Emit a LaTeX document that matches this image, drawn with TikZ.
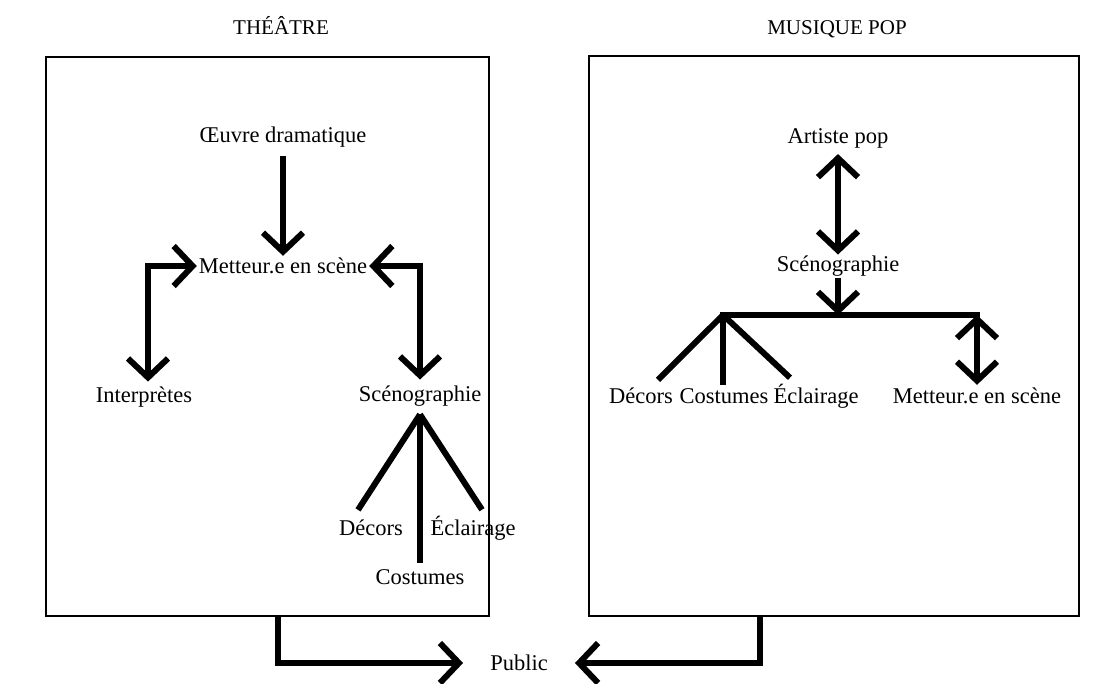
\documentclass[tikz,border=0pt]{standalone}
\usepackage{fontspec}
\setmainfont{Liberation Serif}
\usetikzlibrary{arrows.meta}
\begin{document}
\begin{tikzpicture}[x=1pt,y=-1pt,
  lbl/.style={font=\fontsize{22.5}{24}\selectfont, inner sep=2pt},
  ttl/.style={font=\fontsize{21}{22}\selectfont, inner sep=2pt, anchor=base},
  panel/.style={draw, line width=2.5pt, inner sep=0pt},
  thick line/.style={line width=6pt},
  arr/.style={thick line, -{Straight Barb[length=19pt,width=40pt]}},
  darr/.style={thick line, {Straight Barb[length=19pt,width=40pt]}-{Straight Barb[length=19pt,width=40pt]}}
]
\useasboundingbox (0,0) rectangle (1099,683);
\fill[white] (0,0) rectangle (1099,683);

% panels
\node[panel, minimum width=443pt, minimum height=559pt] (boxL) at (267.5,336.5) {};
\node[panel, minimum width=490pt, minimum height=560pt] (boxR) at (834,336) {};
\node[ttl] (tL) at (281,34) {THÉÂTRE};
\node[ttl] (tR) at (837,34) {MUSIQUE POP};

% theatre
\node[lbl] (oeuvre) at (283,137) {Œuvre dramatique};
\node[lbl] (met) at (283,266) {Metteur.e en scène};
\node[lbl] (interp) at (144,397) {Interprètes};
\node[lbl] (sceno) at (420,396) {Scénographie};
\node[lbl] (decors) at (371,528) {Décors};
\node[lbl] (eclair) at (473,528) {Éclairage};
\node[lbl] (cost) at (420,577) {Costumes};

\draw[arr] ([yshift=-7pt]oeuvre.south) -- (met.north);
\draw[darr] (met.west) -| ([xshift=4pt,yshift=3pt]interp.north);
\draw[darr] (met.east) -| ([yshift=4pt]sceno.north);
\coordinate (apexL) at ([yshift=-6pt]sceno.south);
\draw[thick line] (apexL) -- ([xshift=-13pt,yshift=8pt]decors.north);
\draw[thick line] (apexL) -- ([yshift=4pt]cost.north);
\draw[thick line] (apexL) -- ([xshift=9pt,yshift=4pt]eclair.north);

% pop
\node[lbl] (pop) at (838,138) {Artiste pop};
\node[lbl] (sceno2) at (838,266) {Scénographie};
\node[lbl] (decors2) at (641,396) {Décors};
\node[lbl] (cost2) at (724,396) {Costumes};
\node[lbl] (eclair2) at (816,396) {Éclairage};
\node[lbl] (met2) at (977,396) {Metteur.e en scène};
\coordinate (barL) at (723,315);
\coordinate (barR) at (977,315);
\coordinate (barM) at (838,315);

\draw[darr] ([yshift=-4pt]pop.south) -- ([yshift=-1pt]sceno2.north);
\draw[arr] (sceno2.south) -- (barM);
\draw[thick line] ([xshift=-3pt]barL) -- ([xshift=3pt]barR);
\draw[thick line] (barL) -- ([xshift=17pt,yshift=6pt]decors2.north);
\draw[thick line] (barL) -- ([xshift=-1pt,yshift=1pt]cost2.north);
\draw[thick line] (barL) -- ([xshift=-26pt,yshift=4pt]eclair2.north);
\draw[darr] (barR) -- ([yshift=1pt]met2.north);

% public
\node[lbl, inner xsep=27pt] (public) at (519,663) {Public};
\draw[arr] ([xshift=10.5pt]boxL.south) |- (public.west);
\draw[arr] ([xshift=-74pt]boxR.south) |- (public.east);
\end{tikzpicture}
\end{document}
